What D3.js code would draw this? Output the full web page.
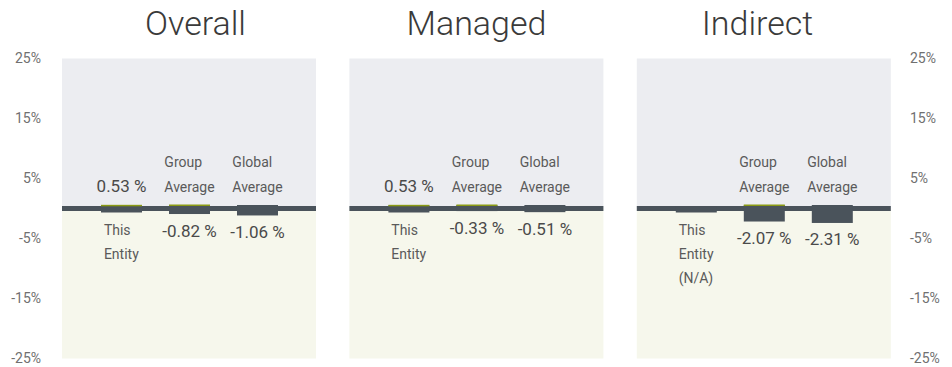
<!DOCTYPE html>
<html>
<head>
<meta charset="utf-8">
<script src="https://cdn.jsdelivr.net/npm/d3@7/dist/d3.min.js"></script>
<style>
  html, body { margin: 0; padding: 0; background: #ffffff; }
  svg { display: block; font-family: Roboto, "Noto Sans", sans-serif; }
</style>
</head>
<body>
<svg id="chart" width="952" height="367"></svg>
<script>
// Performance comparison: three panels, each with the entity vs. group and global averages
const panels = ["Overall", "Managed", "Indirect"];
const categories = ["This Entity", "Group Average", "Global Average"];
const thisEntity = [0.53, 0.53, null];        // null = not available
const groupAverage = [-0.82, -0.33, -2.07];
const globalAverage = [-1.06, -0.51, -2.31];
const tickValues = [-25, -15, -5, 5, 15, 25];

// label lines for each category; the N/A entity gets an extra line
const categoryLines = {
  "This Entity": ["This", "Entity"],
  "Group Average": ["Group", "Average"],
  "Global Average": ["Global", "Average"]
};

const panelW = 254, panelStep = 287.4, panelX0 = 62;
const plotTop = 58.5, plotBottom = 358.5;

const svg = d3.select("#chart");

const y = d3.scaleLinear().domain([-25, 25]).range([plotBottom, plotTop]);
const y0 = y(0);

const panelX = d3.scaleBand().domain(panels)
  .range([panelX0, panelX0 + panelStep * 3]).paddingInner(0).paddingOuter(0);

const titleX = d3.scalePoint().domain(panels).range([195.5, 757.5]);

const bx = d3.scaleBand().domain(categories).range([39, 216])
  .paddingInner(0.397).paddingOuter(0);

const fmt = v => v.toFixed(2) + " %";

// axes on both sides
const axL = svg.append("g").attr("transform", "translate(44,0)")
  .call(d3.axisLeft(y).tickValues(tickValues).tickSize(0).tickPadding(3).tickFormat(d => d + "%"));
const axR = svg.append("g").attr("transform", "translate(907,0)")
  .call(d3.axisRight(y).tickValues(tickValues).tickSize(0).tickPadding(3).tickFormat(d => d + "%"));
[axL, axR].forEach(a => {
  a.select(".domain").remove();
  a.selectAll("text").attr("fill", "#707070").style("font-size", "14px")
    .style("font-family", "Roboto, sans-serif");
});

panels.forEach((p, i) => {
  const x0 = panelX(p);
  const g = svg.append("g").attr("transform", `translate(${x0},0)`);

  // title
  svg.append("text").attr("x", titleX(p)).attr("y", 34.5)
    .attr("text-anchor", "middle").attr("fill", "#3a3a3a")
    .style("font-size", "34px").style("font-weight", 300).text(p);

  // background halves
  g.append("rect").attr("x", 0).attr("y", plotTop).attr("width", panelW)
    .attr("height", y0 - plotTop).attr("fill", "#ecedf1");
  g.append("rect").attr("x", 0).attr("y", y0).attr("width", panelW)
    .attr("height", plotBottom - y0).attr("fill", "#f6f7ec");

  const rows = [
    { cat: categories[0], v: thisEntity[i] },
    { cat: categories[1], v: groupAverage[i] },
    { cat: categories[2], v: globalAverage[i] }
  ];
  const globalV = globalAverage[i];

  // zero line
  g.append("rect").attr("x", 0).attr("y", y0 - 2.5).attr("width", panelW)
    .attr("height", 5).attr("fill", "#4a535b");

  rows.forEach(r => {
    const bxs = bx(r.cat), bw = bx.bandwidth(), cx = bxs + bw / 2;
    const na = r.v === null;
    const v = na ? 0 : r.v;
    const barTop = na ? y0 - 2 : (v > 0 ? y(v) : y0 - 3.5);
    const barBot = (!na && v < 0) ? y(v) + 0.6 : y0 + 4;

    g.append("rect").attr("x", bxs).attr("y", barTop).attr("width", bw)
      .attr("height", barBot - barTop).attr("fill", "#4a535b");

    // olive cap on bars that beat the global average
    if (!na && r.cat !== categories[2] && v > globalV) {
      g.append("rect").attr("x", bxs).attr("y", barTop - 0.5).attr("width", bw)
        .attr("height", 1.5).attr("fill", "#8a9a14");
    }

    const lines = categoryLines[r.cat].slice();
    if (na) lines.push("(N/A)");

    const labelAbove = !na && v < 0;   // category label goes above negative bars
    const catG = g.append("text").attr("fill", "#5a5a5a")
      .style("font-size", "14px");
    if (labelAbove) {
      const lastBase = barTop - 13.5;
      lines.forEach((ln, k) => {
        catG.append("tspan").attr("x", 0)
          .attr("y", lastBase - (lines.length - 1 - k) * 24.4).text(ln);
      });
    } else {
      const firstBase = barBot + 22.5;
      lines.forEach((ln, k) => {
        catG.append("tspan").attr("x", 0).attr("y", firstBase + k * 24).text(ln);
      });
    }
    // left-aligned block centred on the bar
    const blockW = catG.node().getBBox().width;
    catG.selectAll("tspan").attr("x", cx - blockW / 2);

    if (!na) {
      const valY = v > 0 ? barTop - 13.5 : barBot + 22.5;
      g.append("text").attr("x", cx).attr("y", valY).attr("text-anchor", "middle")
        .attr("fill", "#4a4a4a").style("font-size", "17px").text(fmt(v));
    }
  });
});
</script>
</body>
</html>
